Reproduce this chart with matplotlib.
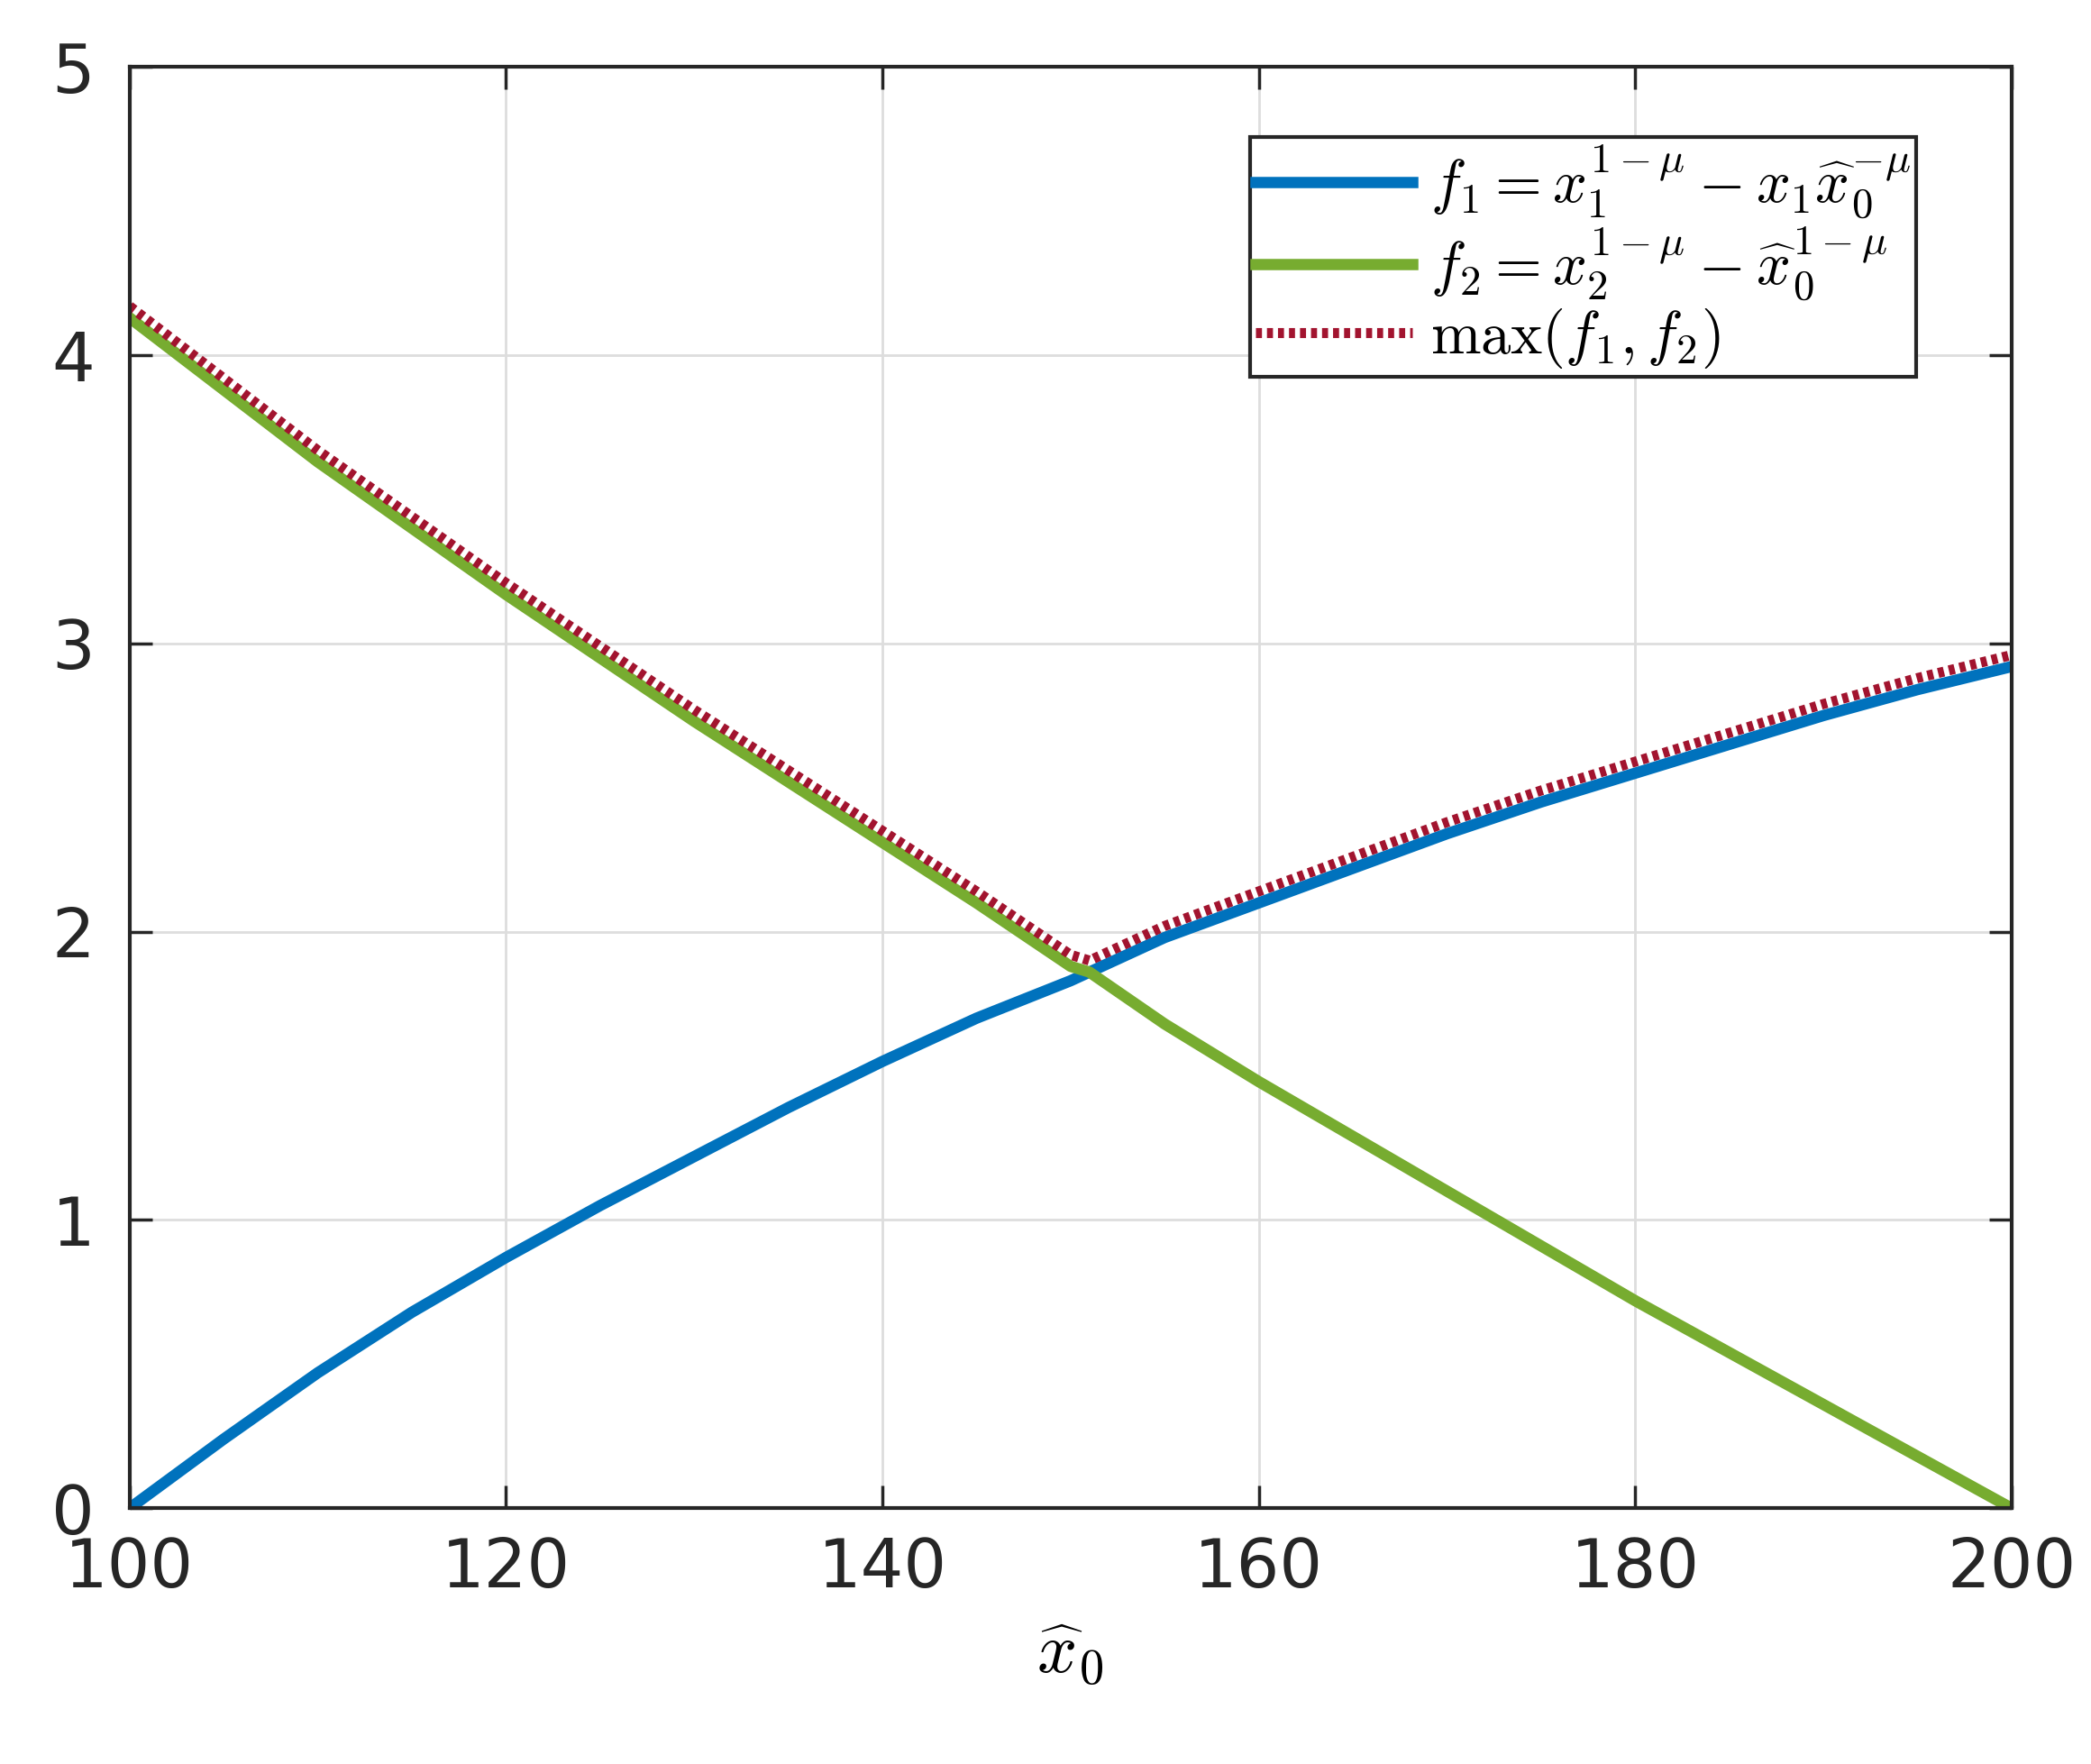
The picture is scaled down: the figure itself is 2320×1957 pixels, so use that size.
import numpy as np
import matplotlib
matplotlib.use("Agg")
import matplotlib.pyplot as plt

plt.rcParams['mathtext.fontset'] = 'cm'

x = [100, 105, 110, 115, 120, 125, 130, 135, 140, 145, 150, 151, 155, 160, 165, 170, 175, 180, 185, 190, 195, 200]
f1 = [0.0, 0.24, 0.47, 0.68, 0.87, 1.05, 1.22, 1.39, 1.55, 1.70, 1.83, 1.86, 1.98, 2.10, 2.22, 2.34, 2.45, 2.55, 2.65, 2.75, 2.84, 2.92]
f2 = [4.13, 3.88, 3.63, 3.40, 3.17, 2.95, 2.73, 2.52, 2.31, 2.10, 1.88, 1.86, 1.68, 1.48, 1.29, 1.10, 0.91, 0.72, 0.54, 0.36, 0.18, 0.0]
fmax = np.maximum(f1, f2)

xticks = [100, 120, 140, 160, 180, 200]
yticks = [0, 1, 2, 3, 4, 5]

fig = plt.figure(figsize=(23.2, 19.57), dpi=100)
ax = fig.add_axes([0.062, 0.145, 0.9, 0.817])
ax.plot(x, f1, color='#0072BD', lw=9, label=r'$f_1 = x_1^{1-\mu} - x_1\widehat{x}_0^{-\mu}$')
ax.plot(x, f2, color='#77AC30', lw=9, label=r'$f_2 = x_2^{1-\mu} - \widehat{x}_0^{1-\mu}$')
ax.plot(x, fmax + 0.04, color='#A2142F', lw=8, ls=(0, (0.6, 0.5)), label=r'$\max(f_1, f_2)$')
ax.set_xlim(100, 200)
ax.set_ylim(0, 5)
ax.set_xticks(xticks)
ax.set_yticks(yticks)
ax.tick_params(labelsize=54, direction='in', length=18, width=2.5, top=True, right=True, colors='#262626')
ax.tick_params(axis='x', pad=22)
ax.tick_params(axis='y', pad=28)
ax.grid(True, color='#dddddd', lw=2)
for s in ax.spines.values():
    s.set_linewidth(3)
    s.set_color('#262626')
ax.set_xlabel(r'$\widehat{x}_0$', fontsize=56, labelpad=14)
leg = ax.legend(loc='upper right', fontsize=48, fancybox=False, framealpha=1,
                edgecolor='#262626', handlelength=2.6, handletextpad=0.3,
                borderaxespad=0.8, borderpad=0.1, labelspacing=0.05,
                bbox_to_anchor=(0.975, 0.985))
leg.get_frame().set_linewidth(3)
fig.savefig('out.png', dpi=100)
